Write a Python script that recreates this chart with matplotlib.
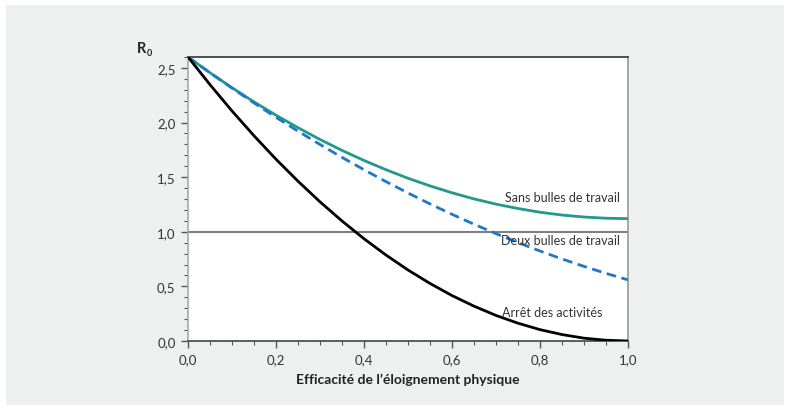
import matplotlib
matplotlib.use("Agg")
import matplotlib.pyplot as plt
from matplotlib.patches import Rectangle
from matplotlib.ticker import MultipleLocator, FuncFormatter

x = [0.0, 0.05, 0.1, 0.15, 0.2, 0.25, 0.3, 0.35, 0.4, 0.45, 0.5,
     0.55, 0.6, 0.65, 0.7, 0.75, 0.8, 0.85, 0.9, 0.95, 1.0]
sans_bulles = [2.60, 2.456, 2.319, 2.189, 2.067, 1.953, 1.845, 1.745, 1.653, 1.568, 1.49,
               1.420, 1.357, 1.301, 1.253, 1.213, 1.179, 1.153, 1.135, 1.124, 1.12]
deux_bulles = [2.60, 2.455, 2.315, 2.179, 2.048, 1.921, 1.799, 1.681, 1.568, 1.459, 1.355,
               1.255, 1.160, 1.069, 0.983, 0.901, 0.824, 0.751, 0.683, 0.619, 0.56]
arret = [2.60, 2.347, 2.106, 1.879, 1.664, 1.463, 1.274, 1.099, 0.936, 0.787, 0.65,
         0.527, 0.416, 0.319, 0.234, 0.163, 0.104, 0.059, 0.026, 0.007, 0.0]
threshold = 1.0

labels = ["Sans bulles de travail", "Deux bulles de travail", "Arrêt des activités"]

plt.rcParams['font.family'] = ['Lato', 'DejaVu Sans']

fig = plt.figure(figsize=(7.92, 4.14), dpi=100)
fig.patch.set_facecolor('white')
bg = Rectangle((6/792, 8/414), 778/792, 400/414, transform=fig.transFigure,
               facecolor='#eeefef', edgecolor='none', zorder=-10)
fig.patches.append(bg)

ax = fig.add_axes([188/792, 72/414, 440/792, 284/414])
ax.set_facecolor('white')

ax.axhline(threshold, color='#7f7f7f', lw=1.5, zorder=1)
ax.plot(x, sans_bulles, color='#22998e', lw=2.0, zorder=3)
ax.plot(x, deux_bulles, color='#1f78c8', lw=2.0, ls=(0, (3.5, 2)), zorder=3)
ax.plot(x, arret, color='black', lw=2.0, zorder=3)

ax.set_xlim(0, 1.0)
ax.set_ylim(0, 2.6)

ax.xaxis.set_major_locator(MultipleLocator(0.2))
ax.xaxis.set_minor_locator(MultipleLocator(0.05))
ax.yaxis.set_major_locator(MultipleLocator(0.5))
ax.yaxis.set_minor_locator(MultipleLocator(0.1))
fmt = FuncFormatter(lambda v, p: f"{v:.1f}".replace('.', ','))
ax.xaxis.set_major_formatter(fmt)
ax.yaxis.set_major_formatter(fmt)

ax.tick_params(which='both', direction='out', colors='#555555', labelcolor='#333333')
ax.tick_params(which='major', length=5, width=1, labelsize=9.5, pad=4)
ax.tick_params(which='minor', length=3, width=0.8)

ax.spines['left'].set_color('#aaaaaa')
ax.spines['right'].set_color('#999999')
ax.spines['top'].set_color('#333333')
ax.spines['bottom'].set_color('#444444')
for s in ax.spines.values():
    s.set_linewidth(1.2)

ax.text(0.982, 1.32, labels[0], ha='right', va='center', fontsize=9, color='#333333')
ax.text(0.982, 0.927, labels[1], ha='right', va='center', fontsize=9, color='#333333')
ax.text(0.941, 0.266, labels[2], ha='right', va='center', fontsize=9, color='#333333')

ax.set_xlabel("Efficacité de l’éloignement physique", fontsize=10, fontweight='bold',
              color='#222222', labelpad=5)

fig.text(137/792, 1 - 49/414, "R", fontsize=10.5, fontweight='bold', color='#222222',
         ha='left', va='center')
fig.text(146.5/792, 1 - 53/414, "0", fontsize=6.5, fontweight='bold', color='#222222',
         ha='left', va='center')

fig.savefig("out.png", dpi=100, facecolor=fig.get_facecolor())
